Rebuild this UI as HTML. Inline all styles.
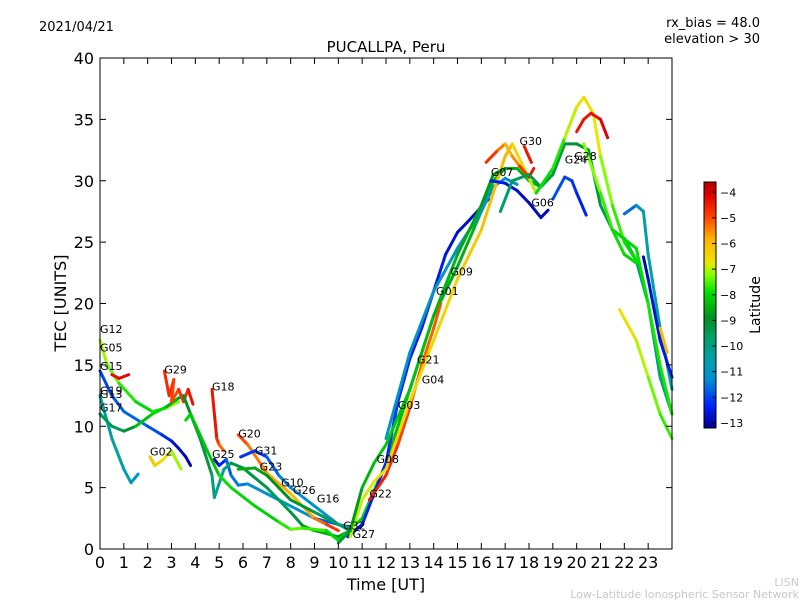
<!DOCTYPE html>
<html><head><meta charset="utf-8"><style>
body{margin:0;background:#fff;}
svg text{font-family:"DejaVu Sans","Liberation Sans",sans-serif;}
</style></head><body>
<svg id="chart" width="800" height="600" xmlns="http://www.w3.org/2000/svg">
<defs>
<linearGradient id="cbg" x1="0" y1="1" x2="0" y2="0">
<stop offset="0" stop-color="#00008b"/>
<stop offset="0.09" stop-color="#0020ff"/>
<stop offset="0.2" stop-color="#0090d0"/>
<stop offset="0.28" stop-color="#00a0a8"/>
<stop offset="0.36" stop-color="#00a070"/>
<stop offset="0.45" stop-color="#009020"/>
<stop offset="0.55" stop-color="#00e000"/>
<stop offset="0.62" stop-color="#80ff00"/>
<stop offset="0.67" stop-color="#e8e800"/>
<stop offset="0.77" stop-color="#ffb000"/>
<stop offset="0.86" stop-color="#ff4000"/>
<stop offset="0.95" stop-color="#e00000"/>
<stop offset="1" stop-color="#b00000"/>
</linearGradient>
</defs>
<text x="39" y="31" font-size="13">2021/04/21</text>
<text x="760" y="27" font-size="13" text-anchor="end">rx_bias = 48.0</text>
<text x="760" y="43" font-size="13" text-anchor="end">elevation &gt; 30</text>
<text x="386" y="52" font-size="15" text-anchor="middle">PUCALLPA, Peru</text>
<g id="plot"></g>
<rect x="100" y="58" width="572" height="491" fill="none" stroke="#000" stroke-width="1"/>
<g id="axes"></g>
<text x="386" y="590" font-size="16" text-anchor="middle">Time [UT]</text>
<text transform="translate(66,303) rotate(-90)" font-size="16" text-anchor="middle">TEC [UNITS]</text>
<rect x="704" y="182" width="12" height="246" fill="url(#cbg)" stroke="#000" stroke-width="1"/>
<g id="cbticks"></g>
<text transform="translate(760,305) rotate(-90)" font-size="14" text-anchor="middle">Latitude</text>
<text x="799" y="586" font-size="11" fill="#c8c8c8" text-anchor="end">LISN</text>
<text x="799" y="598" font-size="11" fill="#c8c8c8" text-anchor="end">Low-Latitude Ionospheric Sensor Network</text>
</svg>
<script>
const xTicks=[0,1,2,3,4,5,6,7,8,9,10,11,12,13,14,15,16,17,18,19,20,21,22,23];
const yTicks=[0,5,10,15,20,25,30,35,40];
const cbTicks=[-4,-5,-6,-7,-8,-9,-10,-11,-12,-13];
const traceHours=[
[0,0.3,0.8,1.5,2.2,2.8,3.3],
[0,0.5,1,2,2.6,3,3.3,3.6,3.8],
[0,0.5,1,1.3,1.6],
[0,0.5,1,1.5,2.2,2.8,3.3,3.6],
[0.5,0.8,1.2],
[2.1,2.3,2.6,3,3.4],
[2.7,2.9,3.1,3.0,3.3,3.5,3.7,3.9],
[4.7,4.9,5.0,5.2],
[4.8,5.0,5.3,5.5,5.8,6.2,7,8,9,10],
[3.5,4.2,4.7,4.8,5.2,5.5,6,7,8,8.5,9,10,10.5],
[3.6,3.8,4.5,5,5.5,6.5,7.5,8,8.5,9.5,10,11,12,13,14,15,16,16.5,17,17.5,18,18.5],
[5.8,6.2,7,8,8.5,9,9.5,10],
[5.9,6.5,7,7.5,8,9,10,10.5],
[5.8,6.5,7,8,9,10,10.5],
[10.4,11,12,12.5,13,13.5,14,14.5,15,15.5,16.3],
[12,12.5,13,14,15,16,16.5,17,17.5],
[11.3,12,12.5,13,13.5,14,14.3],
[10.5,11,11.5,12,13,14,15,16,16.5,17,17.3,17.8,18.3],
[10,10.5,11,11.5,12,13,14,15,16,16.5,17],
[16.2,16.7,17,17.3,17.6,18,18.2],
[17.8,18.1],
[16.4,17,17.5,18,18.5,18.8],
[16.8,17.3,18,18.5,19,19.5,20,20.5,21,21.5,22,22.5,23,23.5,24],
[18.3,19,19.5,20,20.3,20.7,21,21.5,22,22.5],
[20,20.3,20.6,21,21.3],
[19,19.5,19.8,20,20.4],
[20.3,21,21.5,22,22.5],
[22,22.5,22.8,23,23.5,24],
[22.8,23,23.5,24],
[21.8,22.5,23,23.5,24],
[23.5,23.8],
[21.5,22.5,23,23.5,24]
];
const traceTec=[
[17,15,13.5,12,11.2,11.5,12],
[14.5,12.5,11.2,10,9.3,8.8,8.2,7.5,6.8],
[12.5,9,6.5,5.4,6.1],
[11,10,9.6,10,11,11.6,12.3,12.5],
[14.2,13.9,14.2],
[7.5,6.8,7.2,8,6.5],
[14.5,12.5,13.8,12,13,12,13,11.8],
[13,9,8.5,8],
[7.3,6.8,7.3,6,5.2,5.3,4.5,3.5,2.5,2],
[12.5,9,6,4.2,6.5,7,6.6,5,3,1.9,1.5,1,1.5],
[10.5,11,8,6,5,3.5,2.2,1.6,1.7,1.5,0.7,2.5,7,13,19,23,27.5,30,31,31,30,29.5],
[9.3,8.5,6.2,4.5,3.5,2.5,2,1.5],
[7.5,8,7.5,6,5,3.5,2,1.8],
[6.5,6.6,6,4,3,2,1.5],
[1,2,7,12,15.5,18,21,24,25.8,26.8,28.5],
[9,12.5,16,21,24.5,27.5,29.5,30.2,29.7],
[4,6,8.5,11.5,15,18,20],
[1,4,5.5,6.5,12,17,22,26,29,32,33,31,29],
[0.5,1.5,5,7,8.5,13,19,24,28,30.5,31],
[31.5,32.5,33,32,31.2,30.3,31],
[32.8,31.5],
[30,29.8,29.2,28.2,27,27.6],
[27.5,30,30.5,29.5,30.5,33,33,32.5,28,26,25.3,23.5,20,14,11],
[29,31,33.5,36,36.8,35.5,32,28,25,23.5],
[34,35,35.5,35,33.5],
[28.5,30.3,30,29,27.2],
[33,29,26,24,23.3],
[27.3,28,27.5,24,18,13],
[23.8,22,17,14],
[19.5,17,14,11,9],
[18,16],
[26,24.5,20,15,11]
];
const traceLat=[
[-7,-7.2,-7.5,-8,-8,-7.5,-7],
[-12,-12,-11.5,-11.8,-12,-12.5,-12.8,-13,-13],
[-10.5,-10.3,-10.5,-11,-11],
[-9.5,-9.5,-9.5,-8.5,-8,-8,-9,-9.5],
[-4.3,-4.2,-4.2],
[-6,-6.2,-6.5,-7,-7.2],
[-4.3,-5,-4.3,-5.5,-4.5,-5,-4.5,-4.2],
[-4.2,-4.5,-5,-5.5],
[-13,-12.8,-12,-11.5,-11.5,-11.5,-11,-11,-11.5,-12],
[-9,-9,-9.5,-10,-10.5,-9.5,-9,-9.5,-9.5,-9,-8.5,-8.5,-9],
[-8,-8,-8.5,-8,-7.8,-8.2,-8,-7.5,-7.3,-8,-8,-8,-8.2,-8.5,-8.5,-8.5,-8.5,-8.3,-8.5,-8.5,-8.5,-8.5],
[-4.8,-5.2,-5.5,-6,-6,-5.5,-5,-4.5],
[-12,-12.3,-12,-11.5,-11.3,-11.2,-11,-11],
[-8.5,-8.5,-8.8,-9,-9.3,-9.5,-9.8],
[-12.8,-12.5,-12.2,-12.3,-12.5,-12.5,-12.5,-12.5,-12.8,-12.8,-12.8],
[-11,-11,-11,-11,-11,-11.2,-11.2,-11.3,-11.2],
[-4.5,-4.5,-4.8,-5,-5.2,-5.2,-5],
[-7,-7,-6.8,-6.5,-6.5,-6.5,-6.5,-6,-6.2,-5.8,-6,-7,-7],
[-9.3,-9,-8.5,-8.3,-8.2,-8.2,-8.4,-8.5,-8.7,-8.8,-8.8],
[-4.5,-5,-5.8,-6,-5,-4.5,-4.3],
[-4.3,-4.5],
[-12.5,-12.5,-12.8,-12.8,-13,-12.8],
[-9.8,-9.5,-9.5,-9.3,-9.3,-9.2,-9,-9,-9.5,-9.5,-9.5,-9.7,-9.8,-10,-10],
[-7.8,-8,-7.5,-6.5,-6.8,-6.5,-7,-7.5,-7.8,-8],
[-4.2,-4.5,-4.3,-4.2,-4],
[-11.8,-12,-12,-12.3,-12.5],
[-7,-7.5,-7.8,-8,-8],
[-11.8,-11.5,-10.5,-10.5,-10.5,-10.5],
[-13,-12.8,-12.5,-12.5],
[-6.5,-6.8,-7.2,-7.5,-7.8],
[-6,-6],
[-8,-8,-7.8,-7.8,-7.8]
];
const labelNames=["G12","G05","G15","G19","G13","G17","G02","G29","G18","G25","G20","G31","G23","G10","G26","G16","G32","G27","G22","G08","G03","G21","G04","G01","G09","G07","G30","G06","G24","G28"];
const labelHours=[0,0,0,0,0,0,2.1,2.7,4.7,4.7,5.8,6.5,6.7,7.6,8.1,9.1,10.2,10.6,11.3,11.6,12.5,13.3,13.5,14.1,14.7,16.4,17.6,18.1,19.5,19.9];
const labelTec=[17.6,16.1,14.6,12.6,12.3,11.2,7.6,14.3,12.9,7.4,9.1,7.7,6.4,5.1,4.5,3.8,1.6,0.9,4.2,7.0,11.4,15.1,13.5,20.7,22.3,30.4,32.9,27.9,31.4,31.7];

const NS="http://www.w3.org/2000/svg";
const X=h=>100+h*572/24, Y=v=>549-v*491/40;
const CB=l=>182+(l+3.6)/(-9.6)*246;
const stops=[[0,[0,0,139]],[0.09,[0,32,255]],[0.2,[0,144,208]],[0.28,[0,160,168]],[0.36,[0,160,112]],[0.45,[0,144,32]],[0.55,[0,224,0]],[0.62,[128,255,0]],[0.67,[232,232,0]],[0.77,[255,176,0]],[0.86,[255,64,0]],[0.95,[224,0,0]],[1,[176,0,0]]];
function col(l){let t=(l+13.2)/9.6;t=Math.max(0,Math.min(1,t));for(let i=1;i<stops.length;i++){if(t<=stops[i][0]){const a=stops[i-1],b=stops[i],f=(t-a[0])/(b[0]-a[0]);const c=a[1].map((v,k)=>Math.round(v+(b[1][k]-v)*f));return `rgb(${c})`;}}return 'rgb(176,0,0)';}
function mk(tag,attrs,parent){const e=document.createElementNS(NS,tag);for(const k in attrs)e.setAttribute(k,attrs[k]);parent.appendChild(e);return e;}
const plot=document.getElementById('plot'), axes=document.getElementById('axes'), cbt=document.getElementById('cbticks');
traceHours.forEach((hs,ti)=>{
  const g=mk('g',{},plot);
  
  
  for(let i=1;i<hs.length;i++){
    const s=mk('line',{x1:X(hs[i-1]),y1:Y(traceTec[ti][i-1]),x2:X(hs[i]),y2:Y(traceTec[ti][i]),stroke:col((traceLat[ti][i-1]+traceLat[ti][i])/2),'stroke-width':3,'stroke-linecap':'round'},g);
    
    
  }
});
labelNames.forEach((n,i)=>{
  const t=mk('text',{x:X(labelHours[i]),y:Y(labelTec[i]),'font-size':11},plot);
  t.textContent=n;
  
  
});
xTicks.forEach(h=>{
  mk('line',{x1:X(h),y1:549,x2:X(h),y2:543,stroke:'#000'},axes);
  mk('line',{x1:X(h),y1:58,x2:X(h),y2:64,stroke:'#000'},axes);
  const t=mk('text',{x:X(h),y:568,'font-size':16,'text-anchor':'middle'},axes);
  t.textContent=h;
  
  
});
yTicks.forEach(v=>{
  mk('line',{x1:100,y1:Y(v),x2:106,y2:Y(v),stroke:'#000'},axes);
  mk('line',{x1:672,y1:Y(v),x2:666,y2:Y(v),stroke:'#000'},axes);
  const t=mk('text',{x:94,y:Y(v)+6,'font-size':16,'text-anchor':'end'},axes);
  t.textContent=v;
  
  
});
cbTicks.forEach(l=>{
  mk('line',{x1:712,y1:CB(l),x2:716,y2:CB(l),stroke:'#000'},cbt);
  const t=mk('text',{x:720,y:CB(l)+4,'font-size':11},cbt);
  t.textContent='\u2212'+Math.abs(l);
  
  
});
</script>
</body></html>
